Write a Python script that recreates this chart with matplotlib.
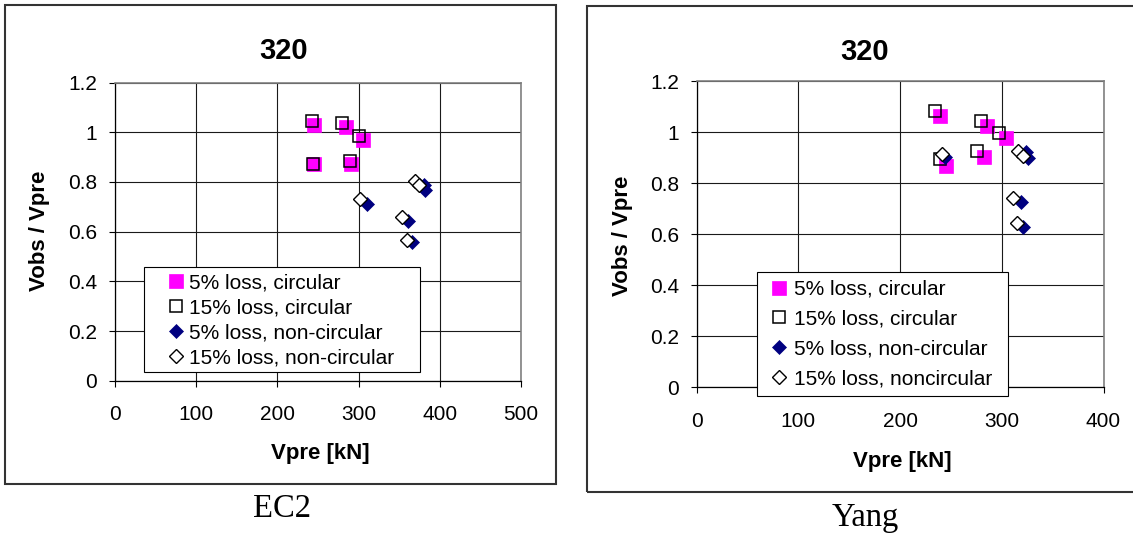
import matplotlib
matplotlib.use('Agg')
import matplotlib.pyplot as plt
from matplotlib.patches import Rectangle

plt.rcParams['font.family'] = ['Liberation Sans', 'DejaVu Sans']

# ---------------- data ----------------
series_labels_ec2 = ['5% loss, circular', '15% loss, circular',
                     '5% loss, non-circular', '15% loss, non-circular']
series_labels_yang = ['5% loss, circular', '15% loss, circular',
                      '5% loss, non-circular', '15% loss, noncircular']

# EC2 panel
ec2_x_5c = [245, 284, 305, 245, 291]
ec2_y_5c = [1.029, 1.022, 0.971, 0.871, 0.874]
ec2_x_15c = [242, 280, 300, 244, 289]
ec2_y_15c = [1.045, 1.036, 0.985, 0.874, 0.885]
ec2_x_5n = [380, 382, 310, 361, 366]
ec2_y_5n = [0.789, 0.769, 0.711, 0.643, 0.557]
ec2_x_15n = [370, 374, 302, 353, 359]
ec2_y_15n = [0.803, 0.787, 0.732, 0.658, 0.565]

# Yang panel
yang_x_5c = [239.5, 285, 303.7, 282.8, 245]
yang_y_5c = [1.063, 1.023, 0.976, 0.902, 0.868]
yang_x_15c = [234, 279.5, 297, 275.5, 239.5]
yang_y_15c = [1.083, 1.043, 0.999, 0.925, 0.894]
yang_x_5n = [243.8, 324, 326, 318.6, 321]
yang_y_5n = [0.902, 0.922, 0.898, 0.728, 0.628]
yang_x_15n = [241.3, 316.2, 320.5, 311.3, 315.2]
yang_y_15n = [0.915, 0.928, 0.907, 0.741, 0.645]

y_ticks = [0, 0.2, 0.4, 0.6, 0.8, 1, 1.2]
y_tick_labels = ['0', '0.2', '0.4', '0.6', '0.8', '1', '1.2']
ec2_x_ticks = [0, 100, 200, 300, 400, 500]
yang_x_ticks = [0, 100, 200, 300, 400]

title_text = '320'
xlabel_text = 'Vpre [kN]'
ylabel_text = 'Vobs / Vpre'
captions = ['EC2', 'Yang']

# ---------------- layout ----------------
W, H = 1133, 534
fig = plt.figure(figsize=(W / 100, H / 100), dpi=100)


def fx(x):
    return x / W


def fy(y):
    return 1 - y / H


def px2fig_rect(x0, y0, x1, y1):
    return [fx(x0), fy(y1), (x1 - x0) / W, (y1 - y0) / H]


# outer boxes
fig.patches.append(Rectangle((fx(5.3), fy(484.3)), (556 - 5.3) / W, (484.3 - 5.3) / H,
                             transform=fig.transFigure, fill=False,
                             edgecolor='#333333', linewidth=1.5))
fig.patches.append(Rectangle((fx(587.3), fy(492.3)), (1145 - 587.3) / W, (492.3 - 5.7) / H,
                             transform=fig.transFigure, fill=False,
                             edgecolor='#333333', linewidth=1.5, clip_on=False))

FS = 15

styles = [
    dict(marker='s', ms=9.5, mfc='#FF00FF', mec='#FF00FF', mew=0.5),
    dict(marker='s', ms=9, mfc='none', mec='black', mew=1.1),
    dict(marker='D', ms=7, mfc='#000080', mec='#000080', mew=0.5),
    dict(marker='D', ms=7, mfc='white', mec='black', mew=1.0),
]


def make_panel(ax_rect, xs, ys, xmax, xticks, labels, legend_box, legend_anchor,
               labelspacing, htp):
    ax = fig.add_axes(ax_rect)
    handles = []
    for i, (x, y) in enumerate(zip(xs, ys)):
        h, = ax.plot(x, y, linestyle='none', zorder=3 + i, clip_on=False, **styles[i])
        handles.append(h)
    ax.set_xlim(0, xmax)
    ax.set_ylim(0, 1.2)
    ax.set_xticks(xticks)
    ax.set_xticklabels([str(t) for t in xticks])
    ax.set_yticks(y_ticks)
    ax.set_yticklabels(y_tick_labels)
    ax.grid(True, color='#1a1a1a', linewidth=0.8)
    ax.set_axisbelow(True)
    for s in ['top', 'right']:
        ax.spines[s].set_color('#808080')
        ax.spines[s].set_linewidth(1.2)
    for s in ['left', 'bottom']:
        ax.spines[s].set_color('black')
        ax.spines[s].set_linewidth(0.9)
    ax.tick_params(axis='both', direction='out', length=4.5, width=0.8,
                   colors='black', labelsize=FS)
    ax.tick_params(axis='y', pad=8.4)
    ax.tick_params(axis='x', pad=13)
    # legend box
    lx0, ly0, lx1, ly1 = legend_box
    fig_rect = px2fig_rect(lx0, ly0, lx1, ly1)
    box = Rectangle((fig_rect[0], fig_rect[1]), fig_rect[2], fig_rect[3],
                    transform=fig.transFigure, facecolor='white',
                    edgecolor='black', linewidth=0.8, zorder=8, clip_on=False)
    ax.add_artist(box)
    leg = ax.legend(handles, labels, loc='upper left',
                    bbox_to_anchor=(fx(legend_anchor[0]), fy(legend_anchor[1])),
                    bbox_transform=fig.transFigure, frameon=False, borderpad=0,
                    borderaxespad=0, handlelength=1.0, handletextpad=htp,
                    labelspacing=labelspacing, fontsize=FS)
    leg.set_zorder(9)
    return ax


make_panel(px2fig_rect(115, 82.6, 521, 380.8),
           [ec2_x_5c, ec2_x_15c, ec2_x_5n, ec2_x_15n],
           [ec2_y_5c, ec2_y_15c, ec2_y_5n, ec2_y_15n],
           500, ec2_x_ticks, series_labels_ec2,
           (144, 267, 420, 372), (165.6, 273.4), 0.29, 0.125)

make_panel(px2fig_rect(696.7, 81.3, 1103.5, 387.3),
           [yang_x_5c, yang_x_15c, yang_x_5n, yang_x_15n],
           [yang_y_5c, yang_y_15c, yang_y_5n, yang_y_15n],
           400, yang_x_ticks, series_labels_yang,
           (757, 272, 1008, 396), (768.9, 279.9), 0.52, 0.22)

# titles, axis labels, captions
for cx, cy in [(283.6, 51), (864.5, 51.5)]:
    fig.text(fx(cx), fy(cy), title_text, ha='center', va='center',
             fontsize=21, fontweight='bold')
for cx, cy in [(320.5, 453), (902, 461.8)]:
    fig.text(fx(cx), fy(cy), xlabel_text, ha='center', va='center',
             fontsize=16, fontweight='bold')
for cx, cy in [(40, 231), (622.4, 235.6)]:
    fig.text(fx(cx), fy(cy), ylabel_text, ha='center', va='center',
             rotation=90, fontsize=16, fontweight='bold')
for (cx, cy), cap in zip([(282, 517), (865.4, 526)], captions):
    fig.text(fx(cx), fy(cy), cap, ha='center', va='baseline', fontsize=23.5,
             family=['Liberation Serif', 'DejaVu Serif'])

fig.savefig('out.png', dpi=100)
